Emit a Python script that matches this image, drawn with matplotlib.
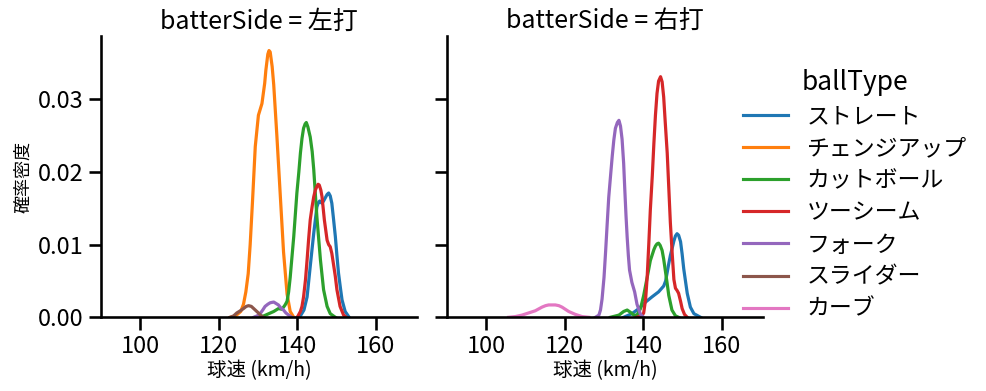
import matplotlib
matplotlib.use("Agg")
import matplotlib.pyplot as plt
from matplotlib.lines import Line2D

plt.rcParams['font.family'] = ['Noto Sans CJK JP', 'DejaVu Sans']

# ---------------- data ----------------
ball_types = ["ストレート", "チェンジアップ", "カットボール", "ツーシーム", "フォーク", "スライダー", "カーブ"]
colors = ["#1f77b4", "#ff7f0e", "#2ca02c", "#d62728", "#9467bd", "#8c564b", "#e377c2"]
panel_titles = ["batterSide = 左打", "batterSide = 右打"]
x_ticks = [100, 120, 140, 160]
y_ticks = [0.00, 0.01, 0.02, 0.03]

# left panel (左打)
l_straight_x = [140.0, 140.8, 141.7, 142.5, 143.3, 144.2, 145.0, 145.4, 145.7, 146.0, 146.3, 146.7, 147.1, 147.6, 148.0, 148.4, 148.8, 149.2, 149.7, 150.1, 150.5, 151.0, 151.4, 152.2, 153.1]
l_straight_y = [0.0, 0.0002, 0.0010, 0.0028, 0.0070, 0.0116, 0.0152, 0.0158, 0.0160, 0.0158, 0.0157, 0.0160, 0.0164, 0.0169, 0.0171, 0.0167, 0.0157, 0.0137, 0.0111, 0.0085, 0.0061, 0.0040, 0.0024, 0.0008, 0.0001]
l_change_x = [122.9, 124.3, 125.6, 126.3, 126.9, 127.5, 128.0, 128.6, 129.3, 130.1, 131.0, 131.7, 132.0, 132.5, 132.8, 133.1, 133.6, 134.0, 134.8, 135.7, 136.5, 137.4, 138.2, 139.1]
l_change_y = [0.0, 0.0002, 0.0008, 0.0018, 0.0035, 0.0060, 0.0100, 0.0160, 0.0235, 0.0278, 0.0294, 0.0322, 0.0340, 0.0362, 0.0367, 0.0365, 0.0345, 0.0320, 0.0250, 0.0165, 0.0090, 0.0032, 0.0008, 0.0]
l_cut_x = [129.3, 131.5, 134.0, 135.2, 136.1, 136.9, 137.4, 137.8, 138.2, 138.6, 139.1, 139.5, 139.9, 140.4, 140.8, 141.2, 141.6, 142.0, 142.3, 142.7, 143.3, 143.8, 144.2, 144.6, 145.0, 145.5, 145.9, 146.7, 147.6, 148.4, 149.7]
l_cut_y = [0.0, 0.0002, 0.0008, 0.0012, 0.0011, 0.0017, 0.0022, 0.0035, 0.0055, 0.0080, 0.0111, 0.0141, 0.0171, 0.0200, 0.0226, 0.0246, 0.0260, 0.0266, 0.0268, 0.0262, 0.0248, 0.0228, 0.0203, 0.0170, 0.0138, 0.0105, 0.0079, 0.0038, 0.0015, 0.0005, 0.0]
l_two_x = [140.0, 140.8, 141.2, 141.6, 142.1, 142.5, 142.9, 143.3, 143.8, 144.2, 144.6, 145.0, 145.3, 145.6, 146.0, 146.3, 146.9, 147.6, 148.0, 148.4, 148.8, 149.2, 149.7, 150.1, 150.9, 151.8, 152.5]
l_two_y = [0.0, 0.0008, 0.0015, 0.0028, 0.0052, 0.0079, 0.0108, 0.0134, 0.0153, 0.0166, 0.0175, 0.0180, 0.0183, 0.0182, 0.0175, 0.0166, 0.0134, 0.0106, 0.0100, 0.0097, 0.0088, 0.0074, 0.0056, 0.0038, 0.0015, 0.0003, 0.0]
l_fork_x = [128.9, 129.8, 130.6, 131.2, 131.8, 132.5, 133.1, 134.0, 134.6, 135.2, 135.8, 136.5, 137.1, 137.8, 138.6]
l_fork_y = [0.0, 0.0002, 0.00055, 0.0010, 0.0015, 0.0018, 0.0020, 0.0021, 0.0019, 0.0017, 0.0013, 0.0010, 0.0006, 0.0003, 0.0]
l_slider_x = [122.9, 123.8, 124.6, 125.5, 126.3, 127.0, 127.6, 128.3, 128.9, 129.5, 130.1, 130.8, 131.4]
l_slider_y = [0.0, 0.0002, 0.0006, 0.0009, 0.0012, 0.0015, 0.0016, 0.0015, 0.0012, 0.0009, 0.0006, 0.0002, 0.0]

# right panel (右打)
r_straight_x = [135.0, 137.1, 138.9, 140.6, 142.2, 143.9, 145.2, 145.7, 146.1, 146.5, 146.9, 147.4, 147.8, 148.2, 148.6, 149.0, 149.5, 149.9, 150.3, 150.8, 151.2, 152.0, 152.9, 154.6]
r_straight_y = [0.0, 0.0005, 0.0012, 0.0021, 0.0028, 0.0035, 0.0043, 0.0050, 0.0062, 0.0074, 0.0085, 0.0096, 0.0105, 0.0112, 0.0115, 0.0113, 0.0104, 0.0087, 0.0067, 0.0048, 0.0033, 0.0014, 0.0005, 0.0]
r_cut_x = [131.6, 133.8, 135.0, 135.9, 136.7, 137.6, 138.4, 139.3, 140.1, 141.0, 141.8, 142.7, 143.1, 143.5, 143.9, 144.3, 144.8, 145.2, 145.6, 146.1, 146.5, 147.3, 148.2, 149.0]
r_cut_y = [0.0, 0.0003, 0.0008, 0.0010, 0.0007, 0.0003, 0.0003, 0.0012, 0.0030, 0.0055, 0.0078, 0.0093, 0.0098, 0.0101, 0.0102, 0.0099, 0.0092, 0.0080, 0.0065, 0.0046, 0.0030, 0.0010, 0.0002, 0.0]
r_two_x = [138.3, 139.6, 140.1, 140.6, 141.0, 141.4, 141.8, 142.3, 142.7, 143.1, 143.5, 143.9, 144.4, 144.8, 145.2, 145.6, 146.1, 146.5, 146.9, 147.4, 147.8, 148.2, 148.6, 149.0, 149.5, 149.9, 150.5, 151.2]
r_two_y = [0.0, 0.0002, 0.0006, 0.0025, 0.0056, 0.0100, 0.0148, 0.0195, 0.0239, 0.0278, 0.0308, 0.0325, 0.0331, 0.0324, 0.0303, 0.0268, 0.0226, 0.0178, 0.0130, 0.0085, 0.0052, 0.0040, 0.0037, 0.0033, 0.0022, 0.0012, 0.0004, 0.0]
r_fork_x = [127.8, 128.7, 129.1, 129.5, 130.0, 130.4, 130.8, 131.2, 131.7, 132.1, 132.5, 132.9, 133.4, 133.8, 134.2, 134.6, 135.0, 135.3, 135.6, 135.9, 136.2, 136.5, 137.1, 137.8, 138.4, 139.3, 140.1]
r_fork_y = [0.0, 0.0003, 0.0010, 0.0025, 0.0055, 0.0090, 0.0128, 0.0165, 0.0197, 0.0222, 0.0244, 0.0260, 0.0268, 0.0271, 0.0263, 0.0245, 0.0212, 0.0175, 0.0140, 0.0110, 0.0085, 0.0065, 0.0048, 0.0035, 0.0018, 0.0004, 0.0]
r_curve_x = [105.7, 107.4, 109.1, 110.8, 112.5, 114.2, 115.1, 115.9, 116.8, 117.6, 118.5, 119.3, 121.0, 122.7, 124.4, 126.1]
r_curve_y = [0.0, 0.0001, 0.0003, 0.0006, 0.0009, 0.0014, 0.0016, 0.0017, 0.0017, 0.0017, 0.0016, 0.0014, 0.0008, 0.0004, 0.0001, 0.0]

left_series = {
    "ストレート": (l_straight_x, l_straight_y),
    "チェンジアップ": (l_change_x, l_change_y),
    "カットボール": (l_cut_x, l_cut_y),
    "ツーシーム": (l_two_x, l_two_y),
    "フォーク": (l_fork_x, l_fork_y),
    "スライダー": (l_slider_x, l_slider_y),
}
right_series = {
    "ストレート": (r_straight_x, r_straight_y),
    "カットボール": (r_cut_x, r_cut_y),
    "ツーシーム": (r_two_x, r_two_y),
    "フォーク": (r_fork_x, r_fork_y),
    "カーブ": (r_curve_x, r_curve_y),
}

# ---------------- figure ----------------
W, H = 987, 391
fig = plt.figure(figsize=(W / 100, H / 100), dpi=100)

axL = fig.add_axes([101 / W, 1 - 317.3 / H, 316 / W, 281.3 / H])
axR = fig.add_axes([447 / W, 1 - 317.3 / H, 316 / W, 281.3 / H], sharey=axL)

color_of = dict(zip(ball_types, colors))
for ax, series, title in [(axL, left_series, panel_titles[0]), (axR, right_series, panel_titles[1])]:
    for name in ball_types:
        if name in series:
            xs, ys = series[name]
            ax.plot(xs, ys, color=color_of[name], lw=2.3, solid_joinstyle="round")
    ax.set_xlim(90, 170.5)
    ax.set_ylim(0, 0.0387)
    ax.set_xticks(x_ticks)
    ax.set_yticks(y_ticks)
    ax.set_title(title, fontsize=18, pad=5)
    ax.set_xlabel("球速 (km/h)", fontsize=14, labelpad=2)
    for s in ["top", "right"]:
        ax.spines[s].set_visible(False)
    for s in ["left", "bottom"]:
        ax.spines[s].set_linewidth(1.875)
    ax.tick_params(axis="both", which="major", labelsize=17, width=1.875, length=9, direction="out")

axL.yaxis.set_major_formatter(matplotlib.ticker.FormatStrFormatter("%.2f"))
axL.set_ylabel("確率密度", fontsize=13)
axR.tick_params(axis="y", labelleft=False)

handles = [Line2D([0], [0], color=c, lw=2.25) for c in colors]
leg = fig.legend(handles, ball_types, title="ballType", loc="upper left",
                 bbox_to_anchor=(722 / W, 1 - 48 / H), frameon=False,
                 fontsize=16.5, title_fontsize=19, labelspacing=0.4)

fig.savefig("out.png", dpi=100)
